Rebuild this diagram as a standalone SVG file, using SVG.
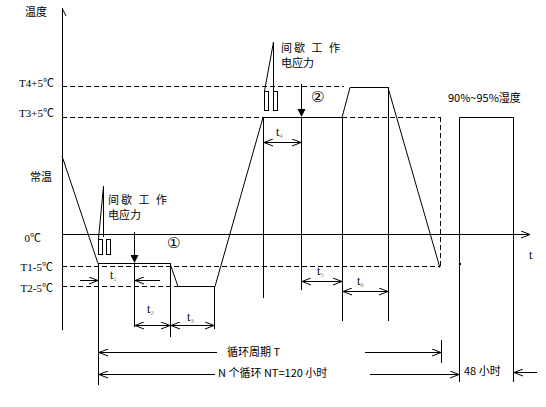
<svg xmlns="http://www.w3.org/2000/svg" width="546" height="407" viewBox="0 0 546 407">
<style>
.s{stroke:#000;stroke-width:1;fill:none}
.d{stroke:#000;stroke-width:1;fill:none;stroke-dasharray:5,3}
.lab{font-family:"Liberation Serif","Noto Sans CJK SC",serif;font-size:11px;fill:#000}
.cn{font-family:"Noto Sans CJK SC","Liberation Sans",sans-serif;font-size:11px;fill:#000}
.cir{font-family:"DejaVu Sans","Noto Sans CJK SC",sans-serif;font-size:15px;fill:#000}
.t{font-family:"Liberation Serif",serif;font-size:12px;fill:#000}
.sub{font-size:7px;fill:#888}
.dim{stroke:#000;stroke-width:1;fill:none;marker-start:url(#oa);marker-end:url(#oa)}
</style>
<defs>
<marker id="oa" viewBox="0 0 9 8" refX="9" refY="4" markerWidth="9" markerHeight="8" markerUnits="userSpaceOnUse" orient="auto-start-reverse">
<path d="M0,0.5 L9,4 L0,7.5" fill="none" stroke="#000" stroke-width="1"/>
</marker>
<marker id="oe" viewBox="0 0 9 8" refX="9" refY="4" markerWidth="9" markerHeight="8" markerUnits="userSpaceOnUse" orient="auto">
<path d="M0,0.5 L9,4 L0,7.5" fill="none" stroke="#000" stroke-width="1"/>
</marker>
</defs>
<rect width="546" height="407" fill="#fff"/>

<g id="axes">
<line class="s" x1="62.5" y1="8" x2="62.5" y2="330"/>
<line class="s" x1="62.5" y1="9" x2="66" y2="16"/>
<line class="s" x1="62" y1="234.5" x2="530" y2="234.5" marker-end="url(#oe)"/>
<text class="t" x="529" y="259">t</text>
<text class="cn" x="25" y="16">温度</text>
</g>

<g id="levels">
<line class="d" x1="62" y1="86.5" x2="344" y2="86.5"/>
<line class="d" x1="62" y1="117.5" x2="440" y2="117.5"/>
<line class="d" x1="62" y1="266.5" x2="440" y2="266.5"/>
<line class="d" x1="62" y1="286.5" x2="178" y2="286.5"/>
<line class="d" x1="440.5" y1="117" x2="440.5" y2="267"/>
<text class="lab" x="54" y="87" text-anchor="end">T4+5℃</text>
<text class="lab" x="54" y="117" text-anchor="end">T3+5℃</text>
<text class="cn" x="52" y="181" text-anchor="end">常温</text>
<text class="lab" x="41" y="242" text-anchor="end">0℃</text>
<text class="lab" x="53" y="271" text-anchor="end">T1-5℃</text>
<text class="lab" x="53" y="292" text-anchor="end">T2-5℃</text>
</g>

<g id="profile">
<polyline class="s" points="62,156 98,263.5 170,263.5 178,286.5 215,286.5 263,117.5 342,117.5 350,87.5 388,87.5 440,268"/>
</g>

<g id="humidity">
<polyline class="s" points="459.5,382 459.5,117.5 513.5,117.5 513.5,382"/>
<rect x="459" y="263" width="2" height="2" fill="#000"/>
<text class="cn" x="448" y="102">90%~95%湿度</text>
</g>

<g id="stress1">
<rect class="s" x="98.5" y="239.5" width="4" height="15"/>
<rect class="s" x="106.5" y="239.5" width="4" height="15"/>
<line class="s" x1="103.5" y1="186" x2="103.5" y2="237"/>
<line class="s" x1="103.5" y1="186" x2="98.5" y2="239"/>
<text class="cn" x="108" y="204" letter-spacing="2">间歇 工 作</text>
<text class="cn" x="108" y="219">电应力</text>
<line class="s" x1="134.5" y1="232" x2="134.5" y2="257"/>
<polygon points="130.5,255 138.5,255 134.5,263" fill="#000"/>
<text class="cir" x="167" y="248">①</text>
</g>

<g id="stress2">
<rect class="s" x="264.5" y="91.5" width="4" height="19"/>
<rect class="s" x="273.5" y="91.5" width="4" height="19"/>
<line class="s" x1="273.5" y1="42" x2="273.5" y2="91"/>
<line class="s" x1="273.5" y1="42" x2="264.5" y2="91"/>
<text class="cn" x="281" y="52" letter-spacing="2">间歇 工 作</text>
<text class="cn" x="281" y="67">电应力</text>
<line class="s" x1="301.5" y1="84" x2="301.5" y2="110"/>
<polygon points="297.5,109 305.5,109 301.5,117" fill="#000"/>
<text class="cir" x="311" y="102">②</text>
</g>

<g id="connectors">
<line class="s" x1="98.5" y1="263" x2="98.5" y2="385"/>
<line class="s" x1="134.5" y1="263" x2="134.5" y2="327"/>
<line class="s" x1="170.5" y1="263" x2="170.5" y2="337"/>
<line class="s" x1="214.5" y1="286" x2="214.5" y2="329"/>
<line class="s" x1="263.5" y1="117" x2="263.5" y2="298"/>
<line class="s" x1="301.5" y1="117" x2="301.5" y2="290"/>
<line class="s" x1="342.5" y1="117" x2="342.5" y2="321"/>
<line class="s" x1="388.5" y1="87" x2="388.5" y2="321"/>
<line class="s" x1="441.5" y1="340" x2="441.5" y2="363"/>

<line class="s" x1="80" y1="280.5" x2="98" y2="280.5" marker-end="url(#oe)"/>
<line class="s" x1="160" y1="280.5" x2="135" y2="280.5" marker-end="url(#oe)"/>
<line class="dim" x1="135" y1="325.5" x2="170" y2="325.5"/>
<line class="dim" x1="171" y1="325.5" x2="214" y2="325.5"/>
<line class="dim" x1="264" y1="142.5" x2="301" y2="142.5"/>
<line class="dim" x1="302" y1="281.5" x2="342" y2="281.5"/>
<line class="dim" x1="343" y1="291.5" x2="388" y2="291.5"/>

<line class="s" x1="217" y1="352.5" x2="99" y2="352.5" marker-end="url(#oe)"/>
<line class="s" x1="365" y1="352.5" x2="441" y2="352.5" marker-end="url(#oe)"/>
<line class="s" x1="215" y1="374.5" x2="99" y2="374.5" marker-end="url(#oe)"/>
<line class="s" x1="370" y1="374.5" x2="459" y2="374.5" marker-end="url(#oe)"/>
<line class="s" x1="537" y1="372.5" x2="514" y2="372.5" marker-end="url(#oe)"/>

<text class="t" x="110" y="279">t<tspan class="sub" dy="2">1</tspan></text>
<text class="t" x="147" y="313">t<tspan class="sub" dy="2">2</tspan></text>
<text class="t" x="187" y="321">t<tspan class="sub" dy="2">3</tspan></text>
<text class="t" x="276" y="136">t<tspan class="sub" dy="2">4</tspan></text>
<text class="t" x="317" y="275">t<tspan class="sub" dy="2">5</tspan></text>
<text class="t" x="357" y="285">t<tspan class="sub" dy="2">6</tspan></text>

<text class="cn" x="227" y="356">循环周期 T</text>
<text class="cn" x="218" y="377">N 个循环 NT=120 小时</text>
<text class="cn" x="464" y="375">48 小时</text>
</g>
</svg>
